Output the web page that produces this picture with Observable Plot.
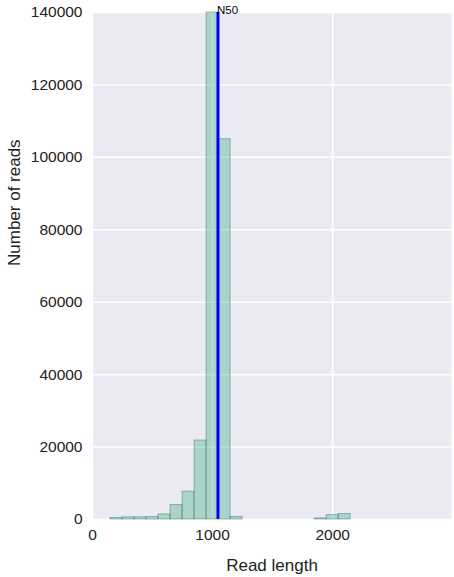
<!DOCTYPE html>
<html>
<head>
<meta charset="utf-8">
<script src="https://cdn.jsdelivr.net/npm/d3@7"></script>
<script src="https://cdn.jsdelivr.net/npm/@observablehq/plot@0.6"></script>
<style>
  html, body { margin: 0; padding: 0; background: #ffffff; }
  #chart svg { display: block; }
</style>
</head>
<body>
<div id="chart"></div>
<script>
const binStart = [150, 250, 350, 450, 550, 650, 750, 850, 950, 1050, 1150, 1850, 1950, 2050];
const binEnd   = [250, 350, 450, 550, 650, 750, 850, 950, 1050, 1150, 1250, 1950, 2050, 2150];
const readCounts = [400, 600, 600, 700, 1400, 4000, 7700, 21800, 140000, 105000, 700, 300, 1200, 1500];
const xTicks = [0, 1000, 2000];
const yTicks = [0, 20000, 40000, 60000, 80000, 100000, 120000, 140000];
const n50 = 1045;

const bins = binStart.map((s, i) => ({x1: s, x2: binEnd[i], y: readCounts[i]}));

const chart = Plot.plot({
  width: 454,
  height: 577,
  marginLeft: 92,
  marginRight: 3,
  marginTop: 12,
  marginBottom: 58,
  style: {fontFamily: "'Liberation Sans', Arial, sans-serif", fontSize: "15.5px", color: "#222"},
  x: {domain: [0, 2990]},
  y: {domain: [0, 140000]},
  marks: [
    Plot.frame({fill: "#EAEAF2", stroke: null}),
    Plot.gridX(xTicks, {stroke: "#ffffff", strokeOpacity: 1, strokeWidth: 1.5}),
    Plot.gridY(yTicks, {stroke: "#ffffff", strokeOpacity: 1, strokeWidth: 1.5}),
    Plot.rectY(bins, {x1: "x1", x2: "x2", y: "y", fill: "#4cb58f", fillOpacity: 0.4, stroke: "#3d6b5c", strokeOpacity: 0.55, strokeWidth: 0.8}),
    Plot.ruleX([n50], {stroke: "#0000ff", strokeWidth: 3}),
    Plot.text(["N50"], {x: n50, y: 140000, text: d => d, textAnchor: "start", lineAnchor: "bottom", dx: -1, dy: 1, fontSize: 11.5, fill: "#000"}),
    Plot.axisX(xTicks, {tickSize: 0, tickPadding: 9, fontSize: 15.5, label: null, tickFormat: d => String(d)}),
    Plot.axisY(yTicks, {tickSize: 0, tickPadding: 10, fontSize: 15.5, label: null, tickFormat: d => String(d)}),
    Plot.text(["Read length"], {frameAnchor: "bottom", dy: 46, text: d => d, fontSize: 17, fill: "#222", lineAnchor: "middle"}),
    Plot.text(["Number of reads"], {frameAnchor: "left", dx: -78, rotate: -90, text: d => d, fontSize: 17, fill: "#222", lineAnchor: "middle"})
  ]
});
document.getElementById("chart").appendChild(chart);
</script>
</body>
</html>
